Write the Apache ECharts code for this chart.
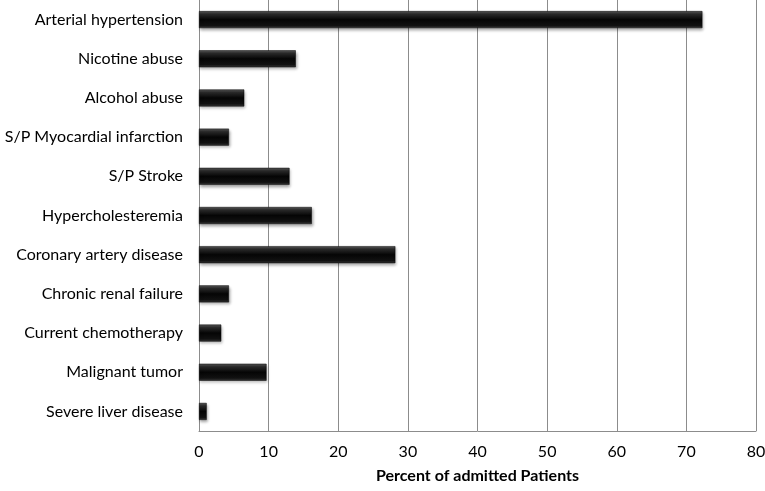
<!DOCTYPE html>
<html>
<head>
<meta charset="utf-8">
<script src="https://cdn.jsdelivr.net/npm/echarts@6/dist/echarts.min.js"></script>
<style>
  html, body { margin: 0; padding: 0; background: #fff; }
  #chart { width: 765px; height: 491px; }
</style>
</head>
<body>
<div id="chart"></div>
<script>
// categories listed top to bottom
const categories = [
  'Arterial hypertension',
  'Nicotine abuse',
  'Alcohol abuse',
  'S/P Myocardial infarction',
  'S/P Stroke',
  'Hypercholesteremia',
  'Coronary artery disease',
  'Chronic renal failure',
  'Current chemotherapy',
  'Malignant tumor',
  'Severe liver disease'
]
const percent = [72.3, 13.9, 6.5, 4.3, 13.0, 16.2, 28.2, 4.3, 3.2, 9.7, 1.1]
const axisTitle = 'Percent of admitted Patients'

const font = 'Lato, "Open Sans", sans-serif'

const chart = echarts.init(document.getElementById('chart'))
chart.setOption({
  animation: false,
  textStyle: { fontFamily: font },
  grid: { left: 199, right: 9, top: 0, bottom: 60, outerBoundsMode: 'none', containLabel: false },
  xAxis: {
    type: 'value',
    min: 0,
    max: 80,
    interval: 10,
    name: axisTitle,
    nameLocation: 'middle',
    nameGap: 37,
    nameTextStyle: { fontSize: 16, fontWeight: 'bold', color: '#000', fontFamily: font },
    axisLine: { show: true, lineStyle: { color: '#8c8c8c', width: 1 } },
    axisTick: { show: false },
    axisLabel: { fontSize: 16, color: '#000', margin: 13 },
    splitLine: { show: true, lineStyle: { color: '#8c8c8c', width: 1 } }
  },
  yAxis: {
    type: 'category',
    inverse: true,
    data: categories,
    axisLine: { show: true, lineStyle: { color: '#8c8c8c', width: 1 } },
    axisTick: { show: false },
    axisLabel: { fontSize: 16, color: '#000', margin: 16 }
  },
  series: [{
    type: 'bar',
    data: percent,
    barWidth: 17,
    itemStyle: {
      color: new echarts.graphic.LinearGradient(0, 0, 0, 1, [
        { offset: 0, color: '#5a5a5a' },
        { offset: 0.18, color: '#2a2a2a' },
        { offset: 0.5, color: '#050505' },
        { offset: 0.85, color: '#111' },
        { offset: 1, color: '#3a3a3a' }
      ]),
      borderColor: '#000',
      borderWidth: 0.5,
      shadowColor: 'rgba(0,0,0,0.35)',
      shadowBlur: 3,
      shadowOffsetX: 1,
      shadowOffsetY: 2
    }
  }]
})
</script>
</body>
</html>
